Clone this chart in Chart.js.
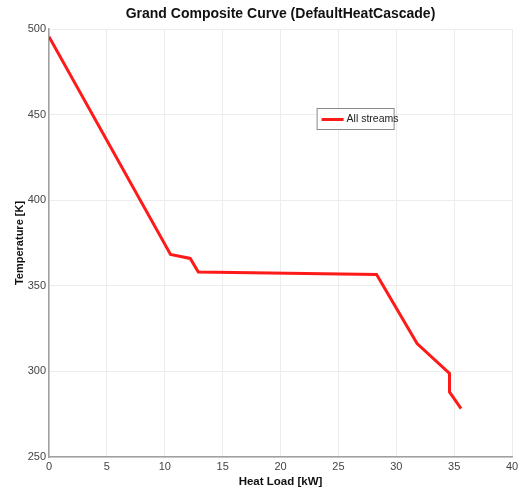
<!DOCTYPE html>
<html>
<head>
<meta charset="utf-8">
<script src="https://cdn.jsdelivr.net/npm/chart.js@4"></script>
<style>
  body { margin: 0; background: #fff; }
  #wrap { width: 527px; height: 492px; }
</style>
</head>
<body>
<div id="wrap"><canvas id="gcc"></canvas></div>
<script>
// heat load [kW] and temperature [K]
const heatLoad = [0, 10.5, 12.2, 12.9, 28.3, 31.8, 34.6, 34.6, 35.6];
const temperature = [495.5, 368.3, 366, 358, 356.6, 316.3, 298.8, 288, 278.3];
const seriesName = 'All streams';
const chartTitle = 'Grand Composite Curve (DefaultHeatCascade)';

const xTicks = [0, 5, 10, 15, 20, 25, 30, 35, 40];
const yTicks = [250, 300, 350, 400, 450, 500];

const FONT = '"Liberation Sans", Arial, sans-serif';

// title centred over the plot, not the canvas
const plotTitle = {
    id: 'plotTitle',
    afterDraw(chart) {
        const c = chart.ctx;
        const area = chart.chartArea;
        c.save();
        c.fillStyle = '#111';
        c.font = 'bold 14px ' + FONT;
        c.textAlign = 'center';
        c.textBaseline = 'middle';
        c.fillText(chartTitle, (area.left + area.right) / 2, 14);
        c.restore();
    }
};

// legend box drawn inside the plot, MATLAB style
const insideLegend = {
    id: 'insideLegend',
    afterDraw(chart) {
        const c = chart.ctx;
        const area = chart.chartArea;
        const ds = chart.data.datasets[0];
        const x = area.left + (area.right - area.left) * 0.578;
        const y = area.top + 79;
        const w = 77, h = 21;
        c.save();
        c.fillStyle = '#fff';
        c.fillRect(x, y, w, h);
        c.strokeStyle = '#8a8a8a';
        c.lineWidth = 1;
        c.strokeRect(x + 0.5, y + 0.5, w, h);
        c.strokeStyle = ds.borderColor;
        c.lineWidth = 3;
        c.beginPath();
        c.moveTo(x + 5, y + h / 2 + 1);
        c.lineTo(x + 27, y + h / 2 + 1);
        c.stroke();
        c.fillStyle = '#222';
        c.font = '10.5px ' + FONT;
        c.textBaseline = 'middle';
        c.fillText(ds.label, x + 30, y + h / 2 + 1);
        c.restore();
    }
};

const ctx = document.getElementById('gcc').getContext('2d');
new Chart(ctx, {
    type: 'line',
    data: {
        datasets: [{
            label: seriesName,
            data: heatLoad.map((q, i) => ({ x: q, y: temperature[i] })),
            borderColor: '#ff1a1a',
            borderWidth: 3,
            pointRadius: 0,
            fill: false,
            tension: 0
        }]
    },
    options: {
        responsive: true,
        maintainAspectRatio: false,
        animation: false,
        layout: { padding: { left: 0, right: 15, top: 29, bottom: 0 } },
        plugins: {
            legend: { display: false },
            tooltip: { enabled: false },
            title: { display: false }
        },
        scales: {
            x: {
                type: 'linear',
                min: 0,
                max: 40,
                afterBuildTicks: s => { s.ticks = xTicks.map(v => ({ value: v })); },
                afterFit: s => { s.height = 35; },
                grid: { color: '#ececec', drawTicks: false },
                border: { color: '#a0a0a0', width: 1.5 },
                ticks: {
                    color: '#444',
                    padding: 3,
                    maxRotation: 0,
                    font: { family: FONT, size: 11 }
                },
                title: {
                    display: true,
                    text: 'Heat Load [kW]',
                    color: '#111',
                    padding: { top: 0, bottom: 3 },
                    font: { family: FONT, size: 11.5, weight: 'bold' }
                }
            },
            y: {
                type: 'linear',
                min: 250,
                max: 500,
                afterBuildTicks: s => { s.ticks = yTicks.map(v => ({ value: v })); },
                afterFit: s => { s.width = 49; },
                grid: { color: '#ececec', drawTicks: false },
                border: { color: '#a0a0a0', width: 1.5 },
                ticks: {
                    color: '#444',
                    padding: 3,
                    font: { family: FONT, size: 11 }
                },
                title: {
                    display: true,
                    text: 'Temperature [K]',
                    color: '#111',
                    padding: { top: 13, bottom: 0 },
                    font: { family: FONT, size: 11, weight: 'bold' }
                }
            }
        }
    },
    plugins: [plotTitle, insideLegend]
});
</script>
</body>
</html>
